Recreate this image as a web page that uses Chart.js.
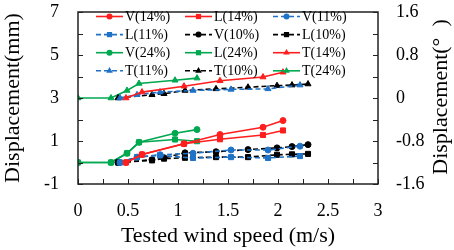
<!DOCTYPE html>
<html><head><meta charset="utf-8">
<script src="https://cdn.jsdelivr.net/npm/chart.js@4/dist/chart.umd.min.js"></script>
<style>html,body{margin:0;padding:0;background:#fff;overflow:hidden}canvas{display:block}</style>
</head><body>
<canvas id="c" width="454" height="250"></canvas>
<script>
// ---- data ----
const seriesNames = ['V(14%)','L(14%)','V(11%)','L(11%)','V(10%)','L(10%)','V(24%)','L(24%)','T(14%)','T(11%)','T(10%)','T(24%)'];
const speeds14 = [0.48, 0.64, 1.06, 1.42, 1.85, 2.05];
const speeds11 = [0.42, 0.59, 0.82, 1.15, 1.53, 1.90, 2.22];
const speeds10 = [0.40, 0.74, 0.86, 1.07, 1.38, 1.70, 1.99, 2.14, 2.30];
const speeds24 = [0, 0.33, 0.49, 0.61, 0.97, 1.19];
const v14 = [0, 0.37, 0.87, 1.30, 1.64, 1.95];
const l14 = [0, 0.37, 0.87, 1.08, 1.28, 1.49];
const t14 = [0, 0.11, 0.22, 0.32, 0.39, 0.48];
const v11 = [0, 0.25, 0.36, 0.43, 0.58, 0.58, 0.76];
const l11 = [0, 0.25, 0.33, 0.21, 0.25, 0.21, 0.30];
const t11 = [0, 0.06, 0.11, 0.14, 0.16, 0.17, 0.24];
const v10 = [0, 0.13, 0.22, 0.45, 0.50, 0.60, 0.68, 0.74, 0.83];
const l10 = [0, 0.10, 0.18, 0.22, 0.25, 0.25, 0.36, 0.38, 0.40];
const t10 = [0, 0.06, 0.08, 0.14, 0.17, 0.20, 0.23, 0.24, 0.26];
const v24 = [0, 0, 0.43, 0.94, 1.36, 1.53];
const l24 = [0, 0, 0.43, 0.94, 1.07, 0.99];
const t24 = [0, 0, 0.14, 0.27, 0.33, 0.37];
const xTickLabels = ['0','0.5','1','1.5','2','2.5','3'];
const yTickLabels = ['-1','1','3','5','7'];
const y1TickLabels = ['-1.6','-0.8','0','0.8','1.6'];

// ---- styles ----
const RED = '#ff1e1e', BLUE = '#1f72c6', GREEN = '#00a84f', BLACK = '#000000';
const FONT = '"Liberation Serif", "Times New Roman", serif';
const DASH = [5, 3];
const series = [
  {x: speeds14, y: v14, color: RED,   dash: [],   marker: 'circle',   axis: 'y'},
  {x: speeds14, y: l14, color: RED,   dash: [],   marker: 'rect',     axis: 'y'},
  {x: speeds11, y: v11, color: BLUE,  dash: DASH, marker: 'circle',   axis: 'y'},
  {x: speeds11, y: l11, color: BLUE,  dash: DASH, marker: 'rect',     axis: 'y'},
  {x: speeds10, y: v10, color: BLACK, dash: DASH, marker: 'circle',   axis: 'y'},
  {x: speeds10, y: l10, color: BLACK, dash: DASH, marker: 'rect',     axis: 'y'},
  {x: speeds24, y: v24, color: GREEN, dash: [],   marker: 'circle',   axis: 'y'},
  {x: speeds24, y: l24, color: GREEN, dash: [],   marker: 'rect',     axis: 'y'},
  {x: speeds14, y: t14, color: RED,   dash: [],   marker: 'triangle', axis: 'y1'},
  {x: speeds11, y: t11, color: BLUE,  dash: DASH, marker: 'triangle', axis: 'y1'},
  {x: speeds10, y: t10, color: BLACK, dash: DASH, marker: 'triangle', axis: 'y1'},
  {x: speeds24, y: t24, color: GREEN, dash: [],   marker: 'triangle', axis: 'y1'},
];

const datasets = series.map((s, i) => ({
  label: seriesNames[i],
  data: s.x.map((xv, j) => ({x: xv, y: s.y[j]})),
  yAxisID: s.axis,
  borderColor: s.color,
  backgroundColor: s.color,
  pointBackgroundColor: s.color,
  pointBorderColor: s.color,
  borderWidth: 1.6,
  borderDash: s.dash,
  pointStyle: s.marker,
  pointRadius: s.marker === 'triangle' ? 3.5 : (s.marker === 'rect' ? 3.6 : 3),
  pointBorderWidth: 1,
  tension: 0,
  fill: false
}));

function drawMarker(ctx, style, x, y, color) {
  ctx.save();
  ctx.fillStyle = color; ctx.setLineDash([]);
  ctx.beginPath();
  if (style === 'circle') { ctx.arc(x, y, 3, 0, Math.PI * 2); }
  else if (style === 'rect') { ctx.rect(x - 2.6, y - 2.6, 5.2, 5.2); }
  else { const r = 3.8; ctx.moveTo(x, y - r); ctx.lineTo(x + r * 0.87, y + r * 0.5); ctx.lineTo(x - r * 0.87, y + r * 0.5); ctx.closePath(); }
  ctx.fill();
  ctx.restore();
}

const framePlugin = {
  id: 'frame',
  afterDatasetsDraw(chart) {
    const {ctx, chartArea: a, scales} = chart;
    ctx.save();
    ctx.strokeStyle = '#222'; ctx.lineWidth = 1;
    const TL = 5;
    const minorValues = (sc) => {
      const t = sc.ticks.map(k => k.value), out = [];
      for (let i = 0; i < t.length; i++) { out.push(t[i]); if (i < t.length - 1) out.push((t[i] + t[i + 1]) / 2); }
      return out;
    };
    ctx.beginPath();
    minorValues(scales.x).forEach(v => { const p = Math.round(scales.x.getPixelForValue(v)) + 0.5; ctx.moveTo(p, a.bottom); ctx.lineTo(p, a.bottom - TL); });
    minorValues(scales.y).forEach(v => { const p = Math.round(scales.y.getPixelForValue(v)) + 0.5; ctx.moveTo(a.left, p); ctx.lineTo(a.left + TL, p); });
    minorValues(scales.y1).forEach(v => { const p = Math.round(scales.y1.getPixelForValue(v)) + 0.5; ctx.moveTo(a.right, p); ctx.lineTo(a.right - TL, p); });
    ctx.stroke();
    ctx.lineWidth = 1.5;
    ctx.strokeRect(a.left, a.top, a.right - a.left, a.bottom - a.top);
    ctx.restore();
  },
  afterDraw(chart) {
    const ctx = chart.ctx;
    ctx.save();
    // legend inside plot area
    const colX = [96, 185, 273];
    ctx.font = '14px ' + FONT;
    ctx.textBaseline = 'middle';
    ctx.textAlign = 'left';
    series.forEach((s, i) => {
      const col = i % 3, row = Math.floor(i / 3);
      const x0 = colX[col], y = 16.5 + row * 18.1;
      ctx.strokeStyle = s.color; ctx.lineWidth = 1.6; ctx.setLineDash(s.dash);
      ctx.beginPath(); ctx.moveTo(x0, y); ctx.lineTo(x0 + 27, y); ctx.stroke();
      drawMarker(ctx, s.marker, x0 + 13.5, y, s.color);
      ctx.fillStyle = '#000';
      ctx.fillText(seriesNames[i], x0 + 29, y + 1);
    });
    // right axis title, reading bottom to top
    ctx.setLineDash([]);
    ctx.translate(441, 97);
    ctx.rotate(-Math.PI / 2);
    ctx.textAlign = 'center';
    ctx.font = '22px ' + FONT;
    ctx.fillStyle = '#000';
    ctx.fillText('Displacement(°  )', 0, 0);
    ctx.restore();
  }
};

const noPad = (s) => { s.paddingTop = 0; s.paddingBottom = 0; s.paddingLeft = 0; s.paddingRight = 0; };

new Chart(document.getElementById('c'), {
  type: 'line',
  data: {datasets},
  options: {
    responsive: false, animation: false, devicePixelRatio: 1,
    layout: {padding: {top: 12, left: 0, right: 0, bottom: 0}},
    plugins: {legend: {display: false}, tooltip: {enabled: false}},
    scales: {
      x: {
        type: 'linear', min: 0, max: 3,
        grid: {display: false, drawTicks: false}, border: {display: false},
        ticks: {stepSize: 0.5, padding: 16, color: '#000', font: {family: FONT, size: 18},
          callback: (v, i) => xTickLabels[i]},
        title: {display: true, text: 'Tested wind speed (m/s)', color: '#000', padding: {top: 0, bottom: 1}, font: {family: FONT, size: 22}},
        afterFit: (s) => { s.height = 66; noPad(s); }
      },
      y: {
        type: 'linear', position: 'left', min: -1, max: 7,
        grid: {display: false, drawTicks: false}, border: {display: false},
        ticks: {stepSize: 2, padding: 19, color: '#000', font: {family: FONT, size: 18},
          callback: (v, i) => yTickLabels[i]},
        title: {display: true, text: 'Displacement(mm)', color: '#000', padding: 0, font: {family: FONT, size: 22}},
        afterFit: (s) => { s.width = 78; noPad(s); }
      },
      y1: {
        type: 'linear', position: 'right', min: -1.6, max: 1.6,
        grid: {display: false, drawTicks: false}, border: {display: false},
        ticks: {stepSize: 0.8, padding: 18, color: '#000', font: {family: FONT, size: 18},
          callback: (v, i) => y1TickLabels[i]},
        afterFit: (s) => { s.width = 76; noPad(s); }
      }
    }
  },
  plugins: [framePlugin]
});
</script>
</body></html>
